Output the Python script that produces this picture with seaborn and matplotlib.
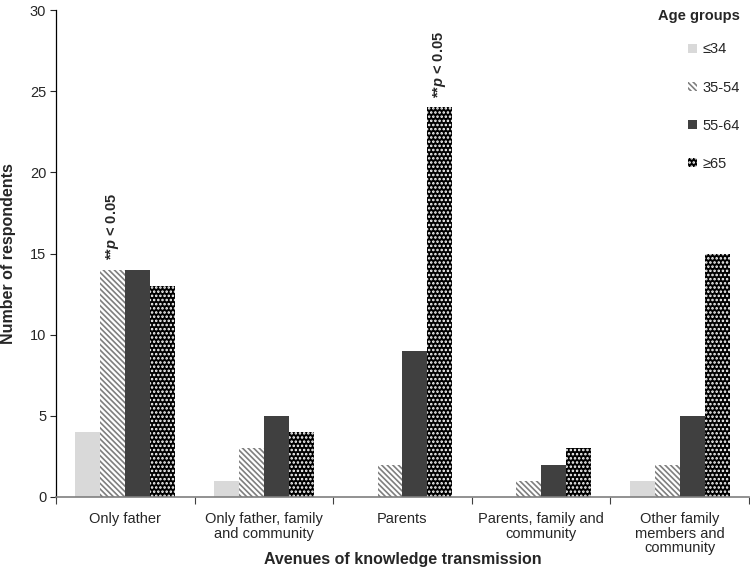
import numpy as np
import pandas as pd
import matplotlib
matplotlib.use('Agg')
import matplotlib.pyplot as plt
import seaborn as sns
from matplotlib.patches import Patch

# Data
avenues = ['Only father', 'Only father, family\nand community', 'Parents',
           'Parents, family and\ncommunity', 'Other family\nmembers and\ncommunity']
age_groups = ['≤34', '35-54', '55-64', '≥65']
age_34 = [4, 1, 0, 0, 1]
age_35_54 = [14, 3, 2, 1, 2]
age_55_64 = [14, 5, 9, 2, 5]
age_65 = [13, 4, 24, 3, 15]

sns.set_style('white')
plt.rcParams['font.family'] = ['Liberation Sans', 'DejaVu Sans']
plt.rcParams['mathtext.fontset'] = 'custom'
plt.rcParams['mathtext.it'] = 'Liberation Sans:bold:italic'
plt.rcParams['mathtext.rm'] = 'Liberation Sans:bold'
plt.rcParams['hatch.linewidth'] = 1.2

df = pd.DataFrame({'Avenue': avenues * 4,
                   'Age': np.repeat(age_groups, len(avenues)),
                   'Count': age_34 + age_35_54 + age_55_64 + age_65})

# face, hatch colour, hatch pattern
styles = {
    '≤34': ('#d9d9d9', '#d9d9d9', None),
    '35-54': ('white', '#7f7f7f', '\\\\\\\\\\\\'),
    '55-64': ('#404040', '#404040', None),
    '≥65': ('black', 'white', '....'),
}

fig = plt.figure(figsize=(7.5, 5.7), dpi=100)
ax = fig.add_axes([56 / 750, 1 - 497 / 570, 693 / 750, 487 / 570])
sns.barplot(data=df, x='Avenue', y='Count', hue='Age', order=avenues,
            hue_order=age_groups, width=0.72, ax=ax, legend=False,
            palette=['#d9d9d9', 'white', '#404040', 'black'], saturation=1)

for cont, grp in zip(ax.containers, age_groups):
    face, hc, hatch = styles[grp]
    for bar in cont:
        bar.set_facecolor(face)
        bar.set_edgecolor(hc)
        bar.set_linewidth(0)
        if hatch:
            bar.set_hatch(hatch)

ax.set_ylim(0, 30)
ax.set_xlim(-0.5, 4.5)
ax.set_yticks(range(0, 31, 5))
ax.tick_params(axis='y', left=True, length=4, width=0.8, labelsize=10.5, pad=3)
ax.set_xticks(range(len(avenues)))
ax.set_xticklabels(avenues, fontsize=10.5, linespacing=1.05)
ax.set_xticks(np.arange(-0.5, 5, 1), minor=True)
ax.tick_params(axis='x', which='major', length=0, pad=11)
ax.tick_params(axis='x', which='minor', bottom=True, length=5, width=0.8, color='#404040')
sns.despine(ax=ax)
ax.spines['left'].set_color('black')
ax.spines['bottom'].set_color('#7f7f7f')
ax.spines['left'].set_linewidth(0.9)
ax.spines['bottom'].set_linewidth(1.2)

ax.set_xlabel('Avenues of knowledge transmission', fontsize=11.5, fontweight='bold')
ax.xaxis.set_label_coords(0.5, -0.113)
ax.set_ylabel('Number of respondents', fontsize=11.5, fontweight='bold', labelpad=10)

# significance notes
sig_label = r'**$p$ < 0.05'
for cont_idx, cat_idx in [(1, 0), (3, 2)]:
    bar = ax.containers[cont_idx][cat_idx]
    ax.text(bar.get_x() + bar.get_width() / 2, bar.get_height() + 0.6, sig_label,
            rotation=90, ha='center', va='bottom', fontsize=10.5, fontweight='bold')

handles = []
for grp in age_groups:
    face, hc, hatch = styles[grp]
    handles.append(Patch(facecolor=face, edgecolor=hc, hatch=hatch, linewidth=0, label=grp))
leg = ax.legend(handles=handles, title='Age groups', loc='upper right',
                bbox_to_anchor=(1.0, 1.02), frameon=False, fontsize=10.5,
                title_fontproperties={'weight': 'bold', 'size': 10.5},
                handlelength=0.6, handleheight=0.6, handletextpad=0.4,
                labelspacing=1.65, borderaxespad=0.2)
leg._legend_box.align = 'right'
leg._legend_box.sep = 14

fig.savefig('out.png', dpi=100)
